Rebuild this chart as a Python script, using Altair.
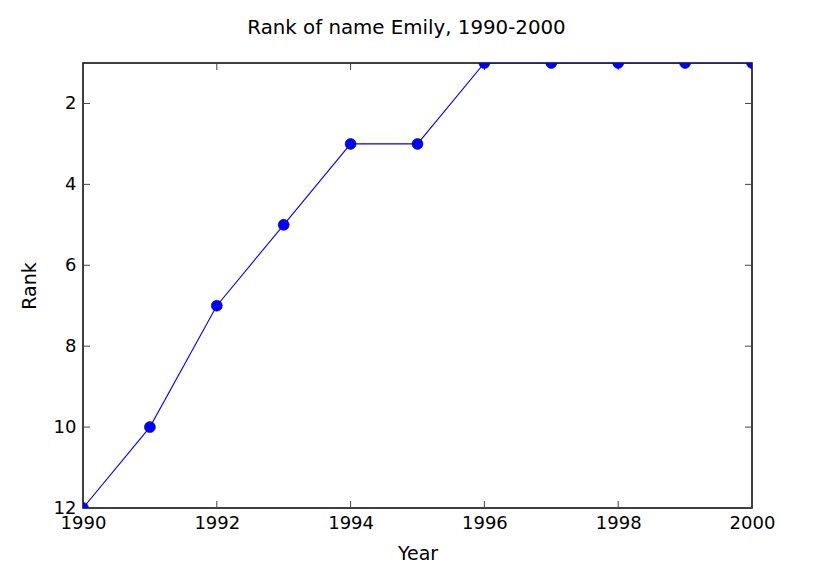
import altair as alt
import pandas as pd

years = [1990, 1991, 1992, 1993, 1994, 1995, 1996, 1997, 1998, 1999, 2000]
ranks = [12, 10, 7, 5, 3, 3, 1, 1, 1, 1, 1]
x_ticks = [1990, 1992, 1994, 1996, 1998, 2000]
y_ticks = [2, 4, 6, 8, 10, 12]

W, H = 669, 445
FONT = "DejaVu Sans"

df = pd.DataFrame({"year": years, "rank": ranks})
xt = pd.DataFrame({"year": x_ticks})
yt = pd.DataFrame({"rank": y_ticks})

xs = alt.Scale(domain=[1990, 2000], nice=False, zero=False)
ys = alt.Scale(domain=[1, 12], nice=False, zero=False, reverse=True)

x_axis = alt.Axis(values=x_ticks, format="d", ticks=False, domain=False, grid=False,
                  labelFlush=False, labelOverlap=False, labelBound=False,
                  labelPadding=6, labelFontSize=18, labelFont=FONT, labelColor="#000",
                  title="Year", titleFontSize=19, titleFont=FONT, titleFontWeight="normal",
                  titlePadding=12, titleColor="#000")
y_axis = alt.Axis(values=y_ticks, ticks=False, domain=False, grid=False,
                  labelFlush=False, labelOverlap=False, labelBound=False,
                  labelPadding=7, labelFontSize=18, labelFont=FONT, labelColor="#000",
                  title="Rank", titleFontSize=19, titleFont=FONT, titleFontWeight="normal",
                  titlePadding=14, titleColor="#000")

X = lambda: alt.X("year:Q", scale=xs, axis=x_axis, title="Year")
Y = lambda: alt.Y("rank:Q", scale=ys, axis=y_axis, title="Rank")

line = alt.Chart(df).mark_line(color="#0000ff", strokeWidth=1.1, clip=True).encode(x=X(), y=Y())
pts = alt.Chart(df).mark_point(filled=True, shape="circle", size=120, color="#0000ff",
                               stroke="#000080", strokeWidth=0.6, opacity=1, clip=True).encode(
    x=X(), y=Y())

tick_color = "#444"
xb = alt.Chart(xt).mark_rule(color=tick_color, strokeWidth=1).encode(
    x=X(), y=alt.value(H), y2=alt.value(H - 7))
xtp = alt.Chart(xt).mark_rule(color=tick_color, strokeWidth=1).encode(
    x=X(), y=alt.value(0), y2=alt.value(7))
yl = alt.Chart(yt).mark_rule(color=tick_color, strokeWidth=1).encode(
    y=Y(), x=alt.value(0), x2=alt.value(7))
yr = alt.Chart(yt).mark_rule(color=tick_color, strokeWidth=1).encode(
    y=Y(), x=alt.value(W), x2=alt.value(W - 7))

chart = alt.layer(line, xb, xtp, yl, yr, pts).properties(
    width=W, height=H,
    title=alt.TitleParams("Rank of name Emily, 1990-2000", fontSize=19.8, font=FONT,
                          fontWeight="normal", anchor="middle", offset=25, dx=-11, color="#000"),
    autosize=alt.AutoSizeParams(type="none"),
    padding={"left": 75, "top": 55, "right": 60, "bottom": 60},
).configure_view(stroke="#000", strokeWidth=1.5)

chart.save("out.html", embed_options={"renderer": "svg", "actions": False})
